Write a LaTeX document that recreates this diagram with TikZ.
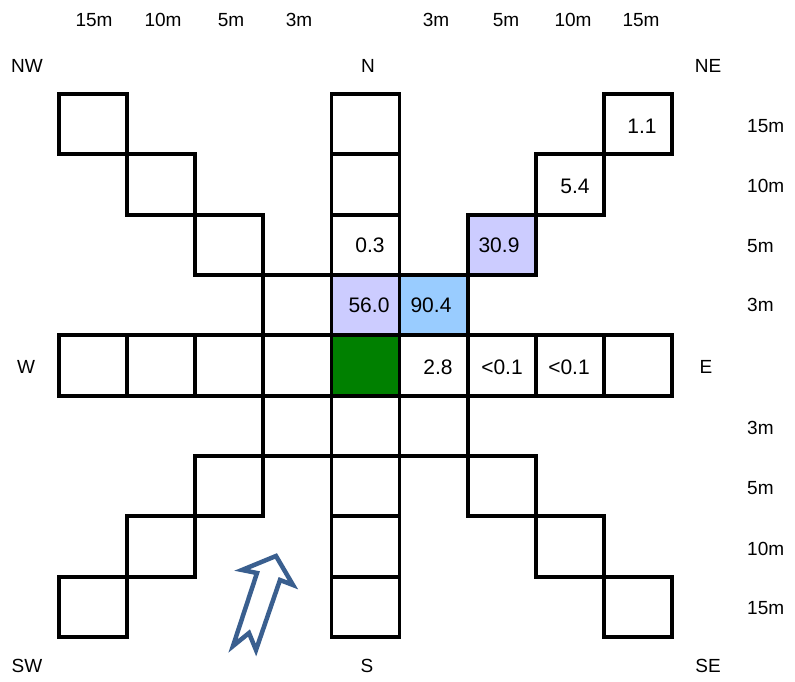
\documentclass[tikz,border=0pt]{standalone}
\usepackage{fontspec}
\setmainfont{Liberation Sans}
\definecolor{lav}{HTML}{CCCCFF}
\definecolor{lblue}{HTML}{99CCFF}
\definecolor{dgreen}{HTML}{008000}
\definecolor{arrowc}{HTML}{3A5F8F}
\tikzset{
  cell/.style={draw=black, line width=3.8pt, minimum width=68.1pt, minimum height=60.33pt, inner sep=0pt, fill=white},
  val/.style={font=\fontsize{21}{25}\selectfont, inner sep=0pt},
  lab/.style={font=\fontsize{19}{23}\selectfont, inner sep=0pt},
}
\begin{document}
\begin{tikzpicture}[x=1pt,y=-1pt]
\useasboundingbox (0,0) rectangle (795,682);
% plain cells
\foreach \c/\r in {4/0,4/1,4/2,4/5,4/6,4/7,4/8,
                   0/4,1/4,2/4,3/4,5/4,6/4,7/4,8/4,
                   0/0,1/1,2/2,3/3,
                   8/0,7/1,
                   5/5,6/6,7/7,8/8,
                   3/5,2/6,1/7,0/8}
  \node[cell] (c\c\r) at ({93.05+68.1*\c},{124.17+60.33*\r}) {};
% coloured cells
\foreach \c/\r/\f in {4/3/lav,5/3/lblue,6/2/lav,4/4/dgreen}
  \node[cell, fill=\f] (c\c\r) at ({93.05+68.1*\c},{124.17+60.33*\r}) {};
% values
\node[val] (v03) at (370,245) {0.3};
\node[val] (v56) at (369,305) {56.0};
\node[val] (v90) at (431,305) {90.4};
\node[val] (v30) at (499,245) {30.9};
\node[val] (v54) at (575,186) {5.4};
\node[val] (v11) at (642,126) {1.1};
\node[val] (v28) at (438,367) {2.8};
\node[val] (vlt1) at (502,367) {<0.1};
\node[val] (vlt2) at (569,367) {<0.1};
% top distance labels
\node[lab] (t1) at (94,20) {15m};
\node[lab] (t2) at (163,20) {10m};
\node[lab] (t3) at (231,20) {5m};
\node[lab] (t4) at (299,20) {3m};
\node[lab] (t5) at (436,20) {3m};
\node[lab] (t6) at (506,20) {5m};
\node[lab] (t7) at (573,20) {10m};
\node[lab] (t8) at (641,20) {15m};
% right distance labels
\foreach \y/\t [count=\i] in {126/15m,186/10m,246/5m,305/3m,428/3m,488/5m,549/10m,608/15m}
  \node[lab, anchor=west] (r\i) at (747,\y) {\t};
% directions
\node[lab] (dNW) at (27,66) {NW};
\node[lab] (dN) at (368,66) {N};
\node[lab] (dNE) at (708,66) {NE};
\node[lab] (dW) at (26,367) {W};
\node[lab] (dE) at (706,367) {E};
\node[lab] (dSW) at (27,666) {SW};
\node[lab] (dS) at (367,666) {S};
\node[lab] (dSE) at (708,666) {SE};
% wind arrow
\draw[arrowc, line width=4.5pt, line join=miter, fill=white]
  (276,556) -- (293,585) -- (280,580) -- (256,650) -- (249,633)
  -- (233,646) -- (257,573) -- (242,570) -- cycle;
\end{tikzpicture}
\end{document}
